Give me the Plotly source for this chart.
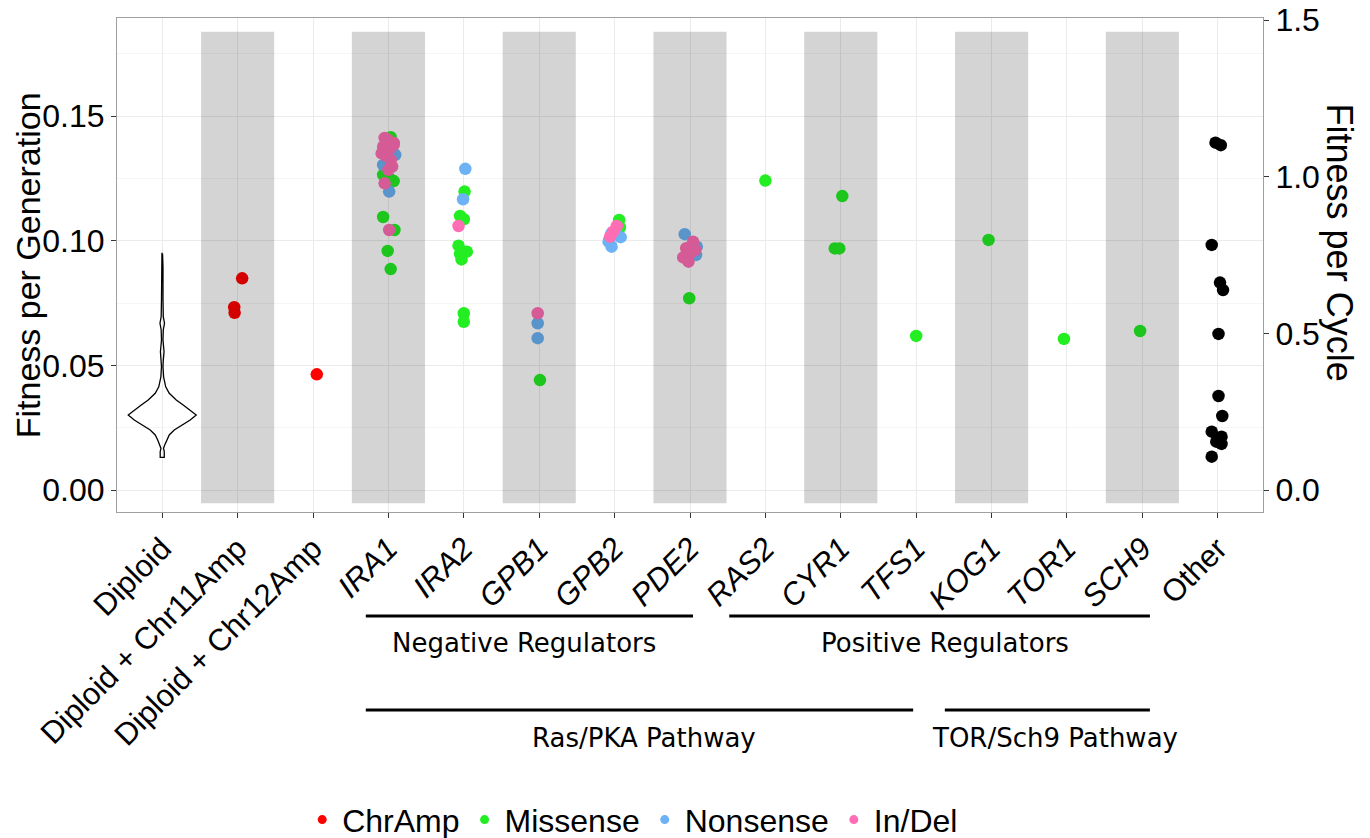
import plotly.graph_objects as go

# ---------------- data ----------------
categories = ["Diploid", "Diploid + Chr11Amp", "Diploid + Chr12Amp", "IRA1", "IRA2",
              "GPB1", "GPB2", "PDE2", "RAS2", "CYR1", "TFS1", "KOG1", "TOR1", "SCH9", "Other"]
italic_cats = ["IRA1", "IRA2", "GPB1", "GPB2", "PDE2", "RAS2", "CYR1", "TFS1",
               "KOG1", "TOR1", "SCH9"]
shaded_cats = ["Diploid + Chr11Amp", "IRA1", "GPB1", "PDE2", "CYR1", "KOG1", "SCH9"]

# Diploid violin outline (fitness per generation, half-width in category units)
violin_y = [0.0949, 0.0896, 0.0762, 0.0695, 0.0669, 0.0642, 0.0602, 0.0555, 0.0521,
            0.0495, 0.0454, 0.0414, 0.0388, 0.0361, 0.0341, 0.0321, 0.0301, 0.0281,
            0.0261, 0.0241, 0.0221, 0.0201, 0.0181, 0.0167, 0.0154, 0.0140, 0.0131]
violin_hw = [0.004, 0.010, 0.010, 0.014, 0.030, 0.014, 0.010, 0.024, 0.014,
             0.010, 0.018, 0.046, 0.093, 0.186, 0.278, 0.371, 0.451, 0.371,
             0.265, 0.159, 0.093, 0.060, 0.033, 0.017, 0.027, 0.027, 0.027]

chramp_cat = ["Diploid + Chr11Amp", "Diploid + Chr11Amp", "Diploid + Chr11Amp", "Diploid + Chr12Amp"]
chramp_fit = [0.0849, 0.0733, 0.0711, 0.0464]
chramp_jit = [0.06, -0.045, -0.04, 0.05]

missense_cat = (["IRA1"] * 8 + ["IRA2"] * 9 + ["GPB1"] + ["GPB2"] * 2 + ["PDE2"] + ["RAS2"]
                + ["CYR1"] * 3 + ["TFS1", "KOG1", "TOR1", "SCH9"])
missense_fit = [0.1415, 0.1264, 0.1246, 0.1239, 0.1095, 0.1043, 0.0959, 0.0886,
                0.1197, 0.1099, 0.1086, 0.0980, 0.0956, 0.0947, 0.0925, 0.0709, 0.0675,
                0.0441,
                0.1083, 0.1054,
                0.0769,
                0.1241,
                0.1179, 0.0969, 0.0969,
                0.0618, 0.1003, 0.0606, 0.0638]
missense_jit = [0.03, -0.07, 0.03, 0.07, -0.07, 0.08, -0.01, 0.03,
                0.01, -0.05, 0.0, -0.07, 0.04, -0.05, -0.03, 0.0, 0.0,
                0.01,
                0.06, 0.07,
                -0.01,
                0.0,
                0.02, -0.08, -0.02,
                0.0, -0.04, -0.04, -0.03]

nonsense_cat = ["IRA1"] * 6 + ["IRA2"] * 2 + ["GPB1"] * 2 + ["GPB2"] * 5 + ["PDE2"] * 3
nonsense_fit = [0.1357, 0.1350, 0.1344, 0.1332, 0.1304, 0.1197,
                0.1288, 0.1166,
                0.0669, 0.0609,
                0.1030, 0.1003, 0.1014, 0.0976, 0.0996,
                0.1026, 0.0976, 0.0943]
nonsense_jit = [-0.03, 0.07, 0.09, 0.01, -0.07, 0.01,
                0.02, -0.01,
                -0.02, -0.02,
                -0.04, -0.07, 0.08, -0.04, -0.08,
                -0.07, 0.09, 0.08]

indel_cat = ["IRA1"] * 14 + ["IRA2"] + ["GPB1"] + ["GPB2"] * 3 + ["PDE2"] * 6
indel_fit = [0.1412, 0.1405, 0.1397, 0.1392, 0.1384, 0.1377, 0.1372, 0.1350, 0.1340,
             0.1324, 0.1297, 0.1284, 0.1230, 0.1043,
             0.1059,
             0.0709,
             0.1059, 0.1036, 0.1016,
             0.0996, 0.0970, 0.0949, 0.0933, 0.0916, 0.0963]
indel_jit = [-0.05, -0.01, 0.0, 0.07, 0.07, -0.07, 0.03, -0.09, -0.03,
             0.03, 0.05, 0.0, -0.05, 0.01,
             -0.07,
             -0.02,
             0.03, -0.02, -0.06,
             0.04, -0.05, 0.0, -0.09, -0.02, 0.07]

other_fit = [0.1393, 0.1383, 0.0983, 0.0832, 0.0802, 0.0626, 0.0377, 0.0297,
             0.0234, 0.0194, 0.0214, 0.0185, 0.0134]
other_jit = [-0.03, 0.04, -0.08, 0.03, 0.07, 0.01, 0.01, 0.06,
             -0.08, -0.02, 0.05, 0.05, -0.08]

type_names = ["ChrAmp", "Missense", "Nonsense", "In/Del"]
type_colors = ["#ff0000", "#22ee22", "#6cb2f5", "#ff6eb4"]

group_lines = [("Negative Regulators", 2.70, 7.04, 4.80, 1),
               ("Positive Regulators", 7.52, 13.10, 10.38, 1),
               ("Ras/PKA Pathway", 2.70, 9.96, 6.39, 2),
               ("TOR/Sch9 Pathway", 10.38, 13.10, 11.84, 2)]

cycle_factor = 7.96  # generations per cycle (right axis scale)

# ---------------- figure ----------------
idx = {c: i for i, c in enumerate(categories)}
tick_text = [f"<i>{c}</i>" if c in italic_cats else c for c in categories]
sans = "Liberation Sans, Arial, Helvetica, sans-serif"

fig = go.Figure()

# violin outline
vx = [idx["Diploid"] + h for h in violin_hw] + [idx["Diploid"] - h for h in violin_hw[::-1]]
vy = violin_y + violin_y[::-1]
vx.append(vx[0]); vy.append(vy[0])
fig.add_trace(go.Scatter(x=vx, y=vy, mode="lines", line=dict(color="black", width=1.3),
                         showlegend=False, hoverinfo="skip"))

series = [(chramp_cat, chramp_fit, chramp_jit),
          (missense_cat, missense_fit, missense_jit),
          (nonsense_cat, nonsense_fit, nonsense_jit),
          (indel_cat, indel_fit, indel_jit)]
for (cats, fit, jit), name, col in zip(series, type_names, type_colors):
    fig.add_trace(go.Scatter(x=[idx[c] + j for c, j in zip(cats, jit)], y=fit, mode="markers",
                             marker=dict(color=col, size=12.5, line=dict(width=0)),
                             name=name, showlegend=False))

fig.add_trace(go.Scatter(x=[idx["Other"] + j for j in other_jit], y=other_fit, mode="markers",
                         marker=dict(color="black", size=12.5, line=dict(width=0)),
                         showlegend=False))

# legend-only entries
for name, col in zip(type_names, type_colors):
    fig.add_trace(go.Scatter(x=[None], y=[None], mode="markers",
                             marker=dict(color=col, size=9), name=name, showlegend=True))

# dummy for the right axis
fig.add_trace(go.Scatter(x=[None], y=[None], yaxis="y2", showlegend=False, hoverinfo="skip"))

y_lo, y_hi = -0.0088, 0.1893

shapes = []
for c in shaded_cats:
    i = idx[c]
    shapes.append(dict(type="rect", xref="x", yref="y", x0=i - 0.485, x1=i + 0.485,
                       y0=-0.0053, y1=0.1838, fillcolor="rgba(0,0,0,0.17)",
                       line=dict(width=0), layer="above"))
annotations = []
row_y = {1: (-0.2105, -0.2652), 2: (-0.4008, -0.4570)}
for label, x0, x1, xc, row in group_lines:
    ly, ty = row_y[row]
    shapes.append(dict(type="line", xref="x", yref="paper", x0=x0, x1=x1, y0=ly, y1=ly,
                       line=dict(color="black", width=3)))
    annotations.append(dict(text=label, xref="x", yref="paper", x=xc, y=ty, showarrow=False,
                            xanchor="center", yanchor="middle",
                            font=dict(family="DejaVu Sans", size=26, color="black")))

annotations.append(dict(text="Fitness per Generation", xref="paper", yref="paper", x=-0.0774, y=0.5,
                        textangle=-90, showarrow=False, xanchor="center", yanchor="middle",
                        font=dict(family=sans, size=34, color="black")))
annotations.append(dict(text="Fitness per Cycle", xref="paper", yref="paper", x=1.0665, y=0.545,
                        textangle=90, showarrow=False, xanchor="center", yanchor="middle",
                        font=dict(family=sans, size=36, color="black")))

fig.update_layout(
    width=1370, height=838,
    margin=dict(l=117, r=107, t=18, b=326, autoexpand=False),
    paper_bgcolor="white", plot_bgcolor="white",
    font=dict(family=sans, color="black"),
    xaxis=dict(range=[-0.6, 14.6], tickmode="array", tickvals=list(range(len(categories))),
               ticktext=tick_text, tickangle=-45, tickfont=dict(size=31, color="black"),
               showgrid=True, gridcolor="#ebebeb", gridwidth=1, zeroline=False,
               ticks="outside", ticklen=5, tickcolor="#333333", automargin=False,
               showline=True, mirror=True, linecolor="#a0a0a0", linewidth=1),
    yaxis=dict(range=[y_lo, y_hi], tickmode="array", tickvals=[0, 0.05, 0.10, 0.15],
               ticktext=["0.00", "0.05", "0.10", "0.15"], tickfont=dict(size=32, color="black"),
               showgrid=True, gridcolor="#ebebeb", zeroline=False, automargin=False,
               minor=dict(tickvals=[0.025, 0.075, 0.125, 0.175], showgrid=True,
                          gridcolor="#f5f5f5", ticks=""),
               ticks="outside", ticklen=5, tickcolor="#333333",
               showline=True, mirror=True, linecolor="#a0a0a0", linewidth=1),
    yaxis2=dict(overlaying="y", side="right", range=[y_lo * cycle_factor, y_hi * cycle_factor],
                tickmode="array", tickvals=[0, 0.5, 1.0, 1.5], ticktext=["0.0", "0.5", "1.0", "1.5"],
                tickfont=dict(size=32, color="black"), showgrid=False, zeroline=False,
                automargin=False,
                ticks="outside", ticklen=5, tickcolor="#333333", showline=False),
    legend=dict(orientation="h", x=0.45, xanchor="center", y=-0.623, yanchor="middle",
                font=dict(family=sans, size=32, color="black"), bgcolor="rgba(0,0,0,0)",
                itemwidth=30, tracegroupgap=0),
    shapes=shapes, annotations=annotations,
)

fig.write_html("out.html")
